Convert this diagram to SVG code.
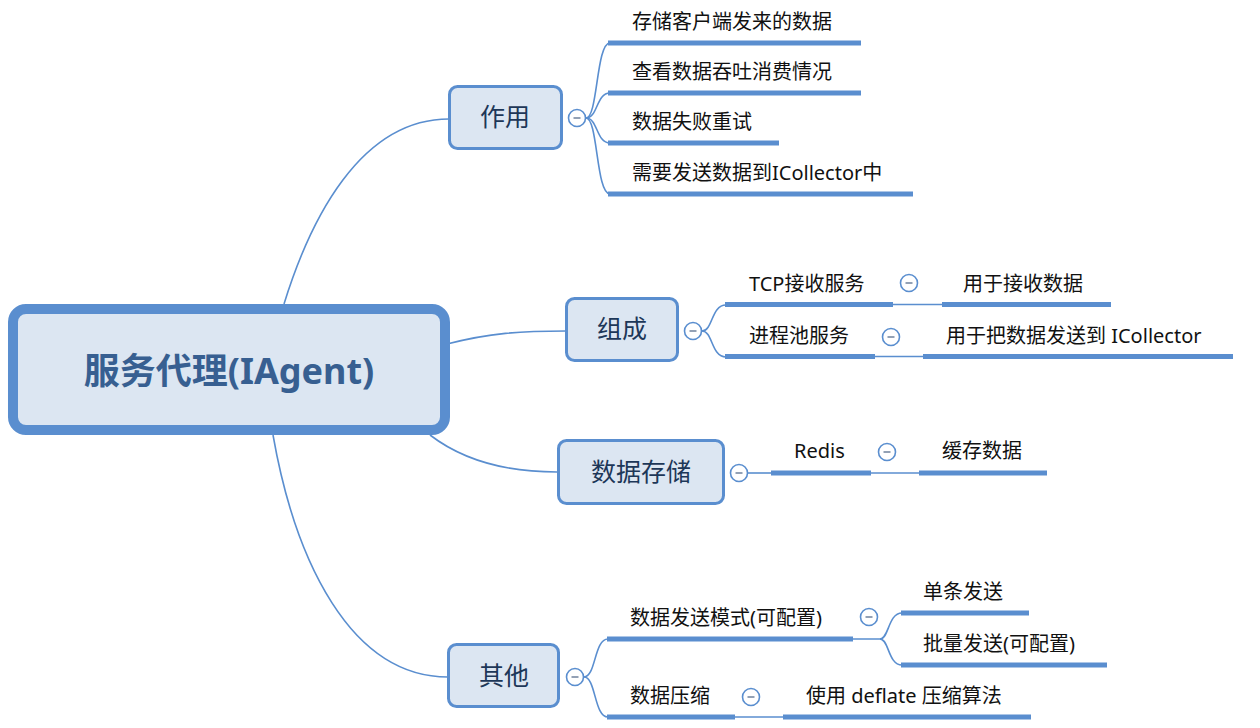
<svg xmlns="http://www.w3.org/2000/svg" width="1260" height="728" viewBox="0 0 1260 728">
<style>
.conn{fill:none;stroke:#5a8ecf;stroke-width:1.6}
.ul{stroke:#5a8ecf;stroke-width:5;stroke-linecap:butt}
.topic{fill:#dce6f2;stroke:#5a8ecf;stroke-width:3}
.ttxt{font-family:"Noto Sans","Noto Sans CJK SC",sans-serif;font-size:25px;fill:#1d3758;text-anchor:middle}
.leaf{font-family:"Noto Sans","Noto Sans CJK SC",sans-serif;font-size:20px;fill:#111}
.cc{fill:#fff;stroke:#5a8ecf;stroke-width:1.6}
.cm{stroke:#8797ad;stroke-width:1.8}
</style>
<defs>
<g id="col"><circle class="cc" cx="0" cy="0" r="8.5"/><line class="cm" x1="-3.5" y1="0" x2="3.5" y2="0"/></g>
</defs>
<rect width="1260" height="728" fill="#fff"/>
<g id="connectors">
<path class="conn" d="M284,304 C310,220 360,119 449,119"/>
<path class="conn" d="M447,344 C490,333 520,331 566,331"/>
<path class="conn" d="M430,435 C460,458 500,472 557,472"/>
<path class="conn" d="M273,435 C295,560 350,677 448,677"/>
<path class="conn" d="M586,118 C598,118 596,43 610,43"/>
<path class="conn" d="M586,118 C598,118 596,93 610,93"/>
<path class="conn" d="M586,118 C598,118 596,143 610,143"/>
<path class="conn" d="M586,118 C598,118 596,194 610,194"/>
<path class="conn" d="M702,331 C713,331 711,305 726,305"/>
<path class="conn" d="M702,331 C713,331 711,357 726,357"/>
<line class="conn" x1="893" y1="304.5" x2="942" y2="304.5"/>
<line class="conn" x1="875" y1="356.5" x2="923" y2="356.5"/>
<line class="conn" x1="748" y1="473" x2="771" y2="473"/>
<line class="conn" x1="871" y1="473" x2="919" y2="473"/>
<path class="conn" d="M584,677 C596,677 594,639 608,639"/>
<path class="conn" d="M584,677 C596,677 594,717 608,717"/>
<path class="conn" d="M853,639 L880,639 C889,639 888,613 902,613"/>
<path class="conn" d="M880,639 C889,639 888,665 902,665"/>
<line class="conn" x1="735" y1="717" x2="783" y2="717"/>
</g>
<g id="root">
<rect x="13" y="309" width="432" height="121" rx="13" fill="#dce6f2" stroke="#5a8ecf" stroke-width="10"/>
<text x="229" y="384" font-family="Noto Sans, Noto Sans CJK SC, sans-serif" font-size="36" font-weight="bold" fill="#375f91" text-anchor="middle">服务代理(IAgent)</text>
</g>
<g id="zuoyong">
<rect class="topic" x="449.5" y="86.5" width="112" height="62" rx="8"/>
<text class="ttxt" x="505" y="126">作用</text>
<use href="#col" x="577" y="118"/>
</g>
<g id="leaf-a1"><text class="leaf" x="632" y="29">存储客户端发来的数据</text><line class="ul" x1="608" y1="43" x2="861" y2="43"/></g>
<g id="leaf-a2"><text class="leaf" x="632" y="79">查看数据吞吐消费情况</text><line class="ul" x1="608" y1="93" x2="861" y2="93"/></g>
<g id="leaf-a3"><text class="leaf" x="632" y="129">数据失败重试</text><line class="ul" x1="608" y1="143" x2="779" y2="143"/></g>
<g id="leaf-a4"><text class="leaf" x="632" y="180">需要发送数据到ICollector中</text><line class="ul" x1="608" y1="194" x2="913" y2="194"/></g>
<g id="zucheng">
<rect class="topic" x="566.5" y="298.5" width="111" height="62" rx="8"/>
<text class="ttxt" x="622" y="338">组成</text>
<use href="#col" x="693" y="331"/>
</g>
<g id="leaf-b1"><text class="leaf" x="749" y="291">TCP接收服务</text><line class="ul" x1="725" y1="304.5" x2="893" y2="304.5"/><use href="#col" x="909" y="283"/></g>
<g id="leaf-b1a"><text class="leaf" x="963" y="291">用于接收数据</text><line class="ul" x1="942" y1="304.5" x2="1111" y2="304.5"/></g>
<g id="leaf-b2"><text class="leaf" x="749" y="343">进程池服务</text><line class="ul" x1="725" y1="356.5" x2="875" y2="356.5"/><use href="#col" x="891" y="337"/></g>
<g id="leaf-b2a"><text class="leaf" x="946" y="343">用于把数据发送到 ICollector</text><line class="ul" x1="923" y1="356.5" x2="1233" y2="356.5"/></g>
<g id="shujucunchu">
<rect class="topic" x="558.5" y="440.5" width="165" height="63" rx="8"/>
<text class="ttxt" x="641" y="481">数据存储</text>
<use href="#col" x="739" y="473"/>
</g>
<g id="leaf-c1"><text class="leaf" x="794" y="458">Redis</text><line class="ul" x1="771" y1="473" x2="871" y2="473"/><use href="#col" x="887" y="452"/></g>
<g id="leaf-c1a"><text class="leaf" x="942" y="458">缓存数据</text><line class="ul" x1="919" y1="473" x2="1047" y2="473"/></g>
<g id="qita">
<rect class="topic" x="448.5" y="644.5" width="110" height="62" rx="8"/>
<text class="ttxt" x="504" y="685">其他</text>
<use href="#col" x="575" y="677"/>
</g>
<g id="leaf-d1"><text class="leaf" x="630" y="625">数据发送模式(可配置)</text><line class="ul" x1="607" y1="639" x2="853" y2="639"/><use href="#col" x="869" y="617"/></g>
<g id="leaf-d1a"><text class="leaf" x="923" y="599">单条发送</text><line class="ul" x1="901" y1="613" x2="1029" y2="613"/></g>
<g id="leaf-d1b"><text class="leaf" x="923" y="651">批量发送(可配置)</text><line class="ul" x1="901" y1="665" x2="1107" y2="665"/></g>
<g id="leaf-d2"><text class="leaf" x="630" y="703">数据压缩</text><line class="ul" x1="607" y1="717" x2="735" y2="717"/><use href="#col" x="751" y="697"/></g>
<g id="leaf-d2a"><text class="leaf" x="806" y="703">使用 deflate 压缩算法</text><line class="ul" x1="783" y1="717" x2="1031" y2="717"/></g>
</svg>
